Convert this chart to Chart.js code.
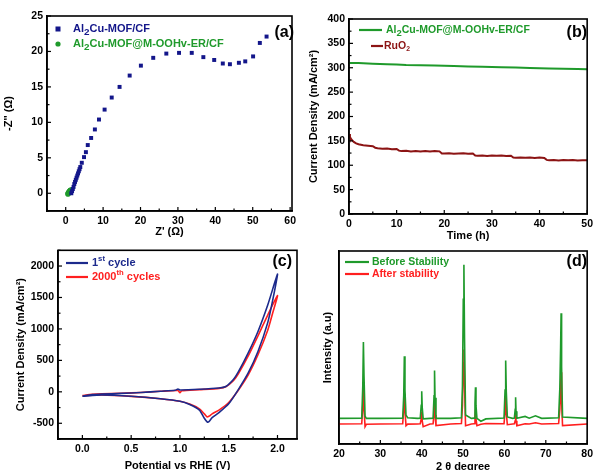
<!DOCTYPE html>
<html>
<head>
<meta charset="utf-8">
<script src="https://cdn.jsdelivr.net/npm/chart.js@4.4.1/dist/chart.umd.min.js"></script>
<style>
  html, body { margin: 0; padding: 0; background: #fff; overflow: hidden; }
  body { width: 597px; height: 470px; position: relative; }
  canvas { position: absolute; }
</style>
</head>
<body>
<canvas id="panelA" width="300" height="241" style="left:0;top:0"></canvas>
<canvas id="panelB" width="300" height="245" style="left:297px;top:0"></canvas>
<canvas id="panelC" width="300" height="235" style="left:0;top:240px"></canvas>
<canvas id="panelD" width="300" height="236" style="left:297px;top:240px"></canvas>
<script>
// (a) Nyquist plot
const eisBareRe = [1.5,1.7,1.9,2.1,2.3,2.5,2.7,2.9,3.1,3.3,3.5,3.7,3.9,4.3,4.9,5.4,5.9,6.8,7.8,8.9,10.4,12.3,14.4,17.1,20.1,23.4,26.9,30.3,33.7,36.8,39.7,42.0,43.9,46.3,48.0,50.1,51.9,53.7];
const eisBareIm = [0.0,0.3,0.6,0.9,1.3,1.6,1.9,2.2,2.5,2.8,3.1,3.4,3.7,4.3,5.1,5.8,6.8,7.8,9.0,10.4,11.8,13.5,15.0,16.6,18.0,19.1,19.7,19.8,19.8,19.2,18.8,18.3,18.2,18.4,18.6,19.3,21.2,22.1];
const eisErRe = [0.6,0.7,0.8,0.9,1.0,1.1,1.2,1.3,1.4];
const eisErIm = [-0.1,0.0,0.1,0.15,0.2,0.3,0.35,0.4,0.45];

// (b) chronoamperometry
const stabTimeG = [0,2,5,8,10,12,15,18,20,22,25,28,30,32,35,38,40,42,45,48,50];
const stabMof = [310,309.5,308,307,306.5,305.5,305,304.5,304,303.5,302.5,302,301.5,301,300.5,299.5,299,298.5,298,297.5,297];
const stabTimeR = [0,0.2,0.5,1,1.5,2,3,4,5,5.5,6,7,8,9,10,10.5,11,12,13,14,15,16,17,18,19,19.5,20,21,22,23,24,25,26,26.5,27,28,29,30,31,32,33,34,34.5,35,36,37,38,39,40,41,41.5,42,43,44,45,46,47,48,49,50];
const stabRuO2 = [164,158,153,148,145,143,141,140,139,136,135,134,134.5,133,133.5,130,129,129.5,128,129,128,129,128,129,128.5,124,124,124.5,123.5,124,124.5,123.5,124,120,119.5,120,119,120,119.5,120,119,119.5,116,115.5,116,115.5,116,115,116,115,111,110.5,111,110,111,110.5,111,110,110.5,110.5];

// (c) CV loops
const cv1V = [0.00,0.10,0.20,0.40,0.60,0.80,0.95,0.98,1.00,1.20,1.40,1.47,1.55,1.60,1.70,1.80,1.90,2.00,1.95,1.90,1.80,1.70,1.60,1.50,1.40,1.33,1.30,1.28,1.25,1.20,1.10,1.00,0.80,0.50,0.20,0.00];
const cv1J = [-70,-45,-35,-25,-10,10,25,45,30,40,60,85,200,320,620,960,1380,1870,1450,1100,640,300,40,-190,-330,-410,-470,-480,-420,-290,-200,-150,-110,-70,-50,-70];
const cv2000V = [0.00,0.10,0.20,0.40,0.60,0.80,0.98,1.00,1.02,1.20,1.40,1.47,1.55,1.60,1.70,1.80,1.90,2.00,1.95,1.90,1.80,1.70,1.60,1.50,1.40,1.33,1.30,1.28,1.25,1.20,1.10,1.00,0.80,0.50,0.20,0.00];
const cv2000J = [-60,-40,-30,-22,-10,8,20,-15,18,35,55,80,180,290,570,890,1220,1530,1250,980,590,270,30,-170,-290,-350,-385,-400,-350,-270,-195,-150,-110,-72,-50,-60];
const cvTicksJ = [-500,0,500,1000,1500,2000];

// (d) XRD
const xrdAngle = [20,25.5,25.75,25.9,26.05,26.3,26.6,30,
  35.4,35.65,35.8,35.95,36.2,36.6,39.0,
  39.65,39.88,40.0,40.12,40.35,42.0,
  42.75,42.98,43.1,43.22,43.45,47.0,
  49.6,49.85,50.05,50.2,50.35,50.6,52.0,
  52.65,52.88,53.0,53.12,53.35,54.3,55.5,
  59.9,60.15,60.3,60.45,60.7,62.0,
  62.4,62.6,62.7,62.8,63.0,65.0,66.0,67.5,69.0,
  73.1,73.4,73.58,73.7,73.82,74.05,80];
const xrdBefore = [13.3,13.4,30,52.8,35,14.5,13.3,13.3,
  13.4,25,45.5,28,15,13.6,13.3,
  13.4,20,27.3,19,13,13.3,
  13.4,25,38.1,24,13.3,13.3,
  13.6,30,75,92.9,55,15,13.3,
  13.4,21,29.4,20,13.3,11.8,13,
  13.5,28,43.3,27,14,13.3,
  13.4,18,24.2,17,13.3,14.3,13.4,14.6,13.3,
  13.6,29.4,50,67.8,40,14,13.3];
const xrdAfter = [10.4,10.5,20,29.9,18,9,10.2,10.4,
  10.5,18,26,17,9.5,10.3,10.4,
  10.5,13,16.8,12,9,10.4,
  10.5,16,22.1,15,9.5,10.4,
  10.6,20,42,49,30,9.5,10.4,
  10.5,14,17.8,13,9.5,10.2,10.6,
  10.5,17,24.7,16,10,10.4,
  10.5,12,16.1,12,9.5,10.5,10.4,11,10.4,
  10.6,18,30,37.2,22,9.5,10.4];

const FONT = "'Liberation Sans', Arial, sans-serif";
Chart.defaults.font.family = FONT;
Chart.defaults.color = '#000';
Chart.defaults.animation = false;

const pts = (xs, ys) => xs.map((x, i) => ({ x, y: ys[i] }));

// inward ticks, box frame, in-plot legend and panel tag
const framePlugin = {
  id: 'frame',
  afterDraw(chart, args, opts) {
    const { ctx, chartArea: a } = chart;
    ctx.save();
    ctx.strokeStyle = '#000';
    ctx.lineWidth = 1.2;
    for (const id of opts.tickAxes || []) {
      const s = chart.scales[id];
      const vals = s.ticks.map(t => t.value);
      const step = vals[1] - vals[0];
      const marks = [[vals[0] - step / 2, 2.5]];
      vals.forEach(v => { marks.push([v, 4]); marks.push([v + step / 2, 2.5]); });
      for (const [v, len] of marks) {
        if (v < s.min || v > s.max) continue;
        const p = s.getPixelForValue(v);
        ctx.beginPath();
        if (s.isHorizontal()) { ctx.moveTo(p, a.bottom); ctx.lineTo(p, a.bottom - len); }
        else { ctx.moveTo(a.left, p); ctx.lineTo(a.left + len, p); }
        ctx.stroke();
      }
    }
    ctx.lineWidth = 1.6;
    ctx.strokeRect(a.left, a.top, a.right - a.left, a.bottom - a.top);

    ctx.textBaseline = 'middle';
    for (const it of opts.items || []) {
      ctx.fillStyle = it.color;
      ctx.strokeStyle = it.color;
      if (it.marker === 'rect') ctx.fillRect(it.mx - 2.5, it.y - 2.5, 5, 5);
      if (it.marker === 'circle') { ctx.beginPath(); ctx.arc(it.mx, it.y, 2.6, 0, Math.PI * 2); ctx.fill(); }
      if (it.marker === 'line') {
        ctx.lineWidth = 2.2;
        ctx.beginPath(); ctx.moveTo(it.mx, it.y); ctx.lineTo(it.mx2, it.y); ctx.stroke();
      }
      let cx = it.tx;
      const size = it.size || 11;
      for (const [txt, kind] of it.parts) {
        const fs = kind === 'sub' ? size * (it.subScale || 0.9) : kind === 'sup' ? size * 0.7 : size;
        const dy = kind === 'sub' ? 3 : kind === 'sup' ? -4 : 0;
        ctx.font = `bold ${fs}px ${FONT}`;
        ctx.fillText(txt, cx, it.y + dy);
        cx += ctx.measureText(txt).width;
      }
    }
    if (opts.tag) {
      ctx.fillStyle = '#000';
      ctx.font = `bold 16px ${FONT}`;
      ctx.textAlign = 'right';
      ctx.fillText(opts.tag.text, opts.tag.x, opts.tag.y);
    }
    ctx.restore();
  }
};

function axis(o) {
  const ticks = { stepSize: o.step, includeBounds: false, display: o.labels !== false,
    font: { size: 10.5, weight: 'bold' }, color: '#000', padding: 4, maxRotation: 0, autoSkip: false,
    callback: o.fmt || (v => String(v)) };
  const cfg = {
    type: 'linear', position: o.pos, min: o.min, max: o.max,
    afterFit: o.fit,
    border: { display: true, color: '#000', width: 1.6 },
    grid: { display: false, drawTicks: false },
    ticks,
    title: { display: true, text: o.title, color: '#000', font: { size: 11, weight: 'bold' }, padding: { top: 2, bottom: 2 } }
  };
  if (o.ticksAt) cfg.afterBuildTicks = s => { s.ticks = o.ticksAt.map(v => ({ value: v })); };
  return cfg;
}

function panel(id, datasets, scales, padding, frame) {
  return new Chart(document.getElementById(id), {
    type: 'scatter',
    data: { datasets },
    options: {
      responsive: false,
      animation: false,
      layout: { padding },
      plugins: { legend: { display: false }, tooltip: { enabled: false }, frame },
      scales
    },
    plugins: [framePlugin]
  });
}

const NAVY = '#13168a', GREEN = '#1f9a2b', DARKRED = '#8c1414', BLUE = '#1c2a8c', RED = '#ff1f1f';

panel('panelA', [
  { data: pts(eisBareRe, eisBareIm), pointStyle: 'rect', pointRadius: 2.8, backgroundColor: NAVY, borderWidth: 0 },
  { data: pts(eisErRe, eisErIm), pointStyle: 'circle', pointRadius: 2.8, backgroundColor: GREEN, borderWidth: 0 }
], {
  x: axis({ pos: 'bottom', min: -5, max: 60.5, step: 10, title: "Z' (Ω)", fit: s => { s.height = 30; } }),
  y: axis({ pos: 'left', min: -2.5, max: 25, step: 5, title: "-Z'' (Ω)", fit: s => { s.width = 47; } })
}, { top: 16, right: 3, left: 0, bottom: 0 }, {
  tickAxes: ['x', 'y'],
  items: [
    { marker: 'rect', mx: 58, tx: 73, y: 29, color: NAVY, parts: [['Al', ''], ['2', 'sub'], ['Cu-MOF/CF', '']] },
    { marker: 'circle', mx: 58, tx: 73, y: 44, color: GREEN, parts: [['Al', ''], ['2', 'sub'], ['Cu-MOF@M-OOHv-ER/CF', '']] }
  ],
  tag: { text: '(a)', x: 294, y: 33 }
});

panel('panelB', [
  { data: pts(stabTimeG, stabMof), showLine: true, pointRadius: 0, borderColor: GREEN, borderWidth: 2, tension: 0 },
  { data: pts(stabTimeR, stabRuO2), showLine: true, pointRadius: 0, borderColor: DARKRED, borderWidth: 2, tension: 0 }
], {
  x: axis({ pos: 'bottom', min: 0, max: 50, step: 10, title: 'Time (h)', fit: s => { s.height = 31; } }),
  y: axis({ pos: 'left', min: 0, max: 400, step: 50, title: 'Current Density (mA/cm²)', fit: s => { s.width = 44; } })
}, { top: 19, right: 7, left: 8, bottom: 0 }, {
  tickAxes: ['x', 'y'],
  items: [
    { marker: 'line', mx: 62, mx2: 85, tx: 89, y: 30, size: 10.5, color: GREEN, parts: [['Al', ''], ['2', 'sub'], ['Cu-MOF@M-OOHv-ER/CF', '']] },
    { marker: 'line', mx: 74, mx2: 86, tx: 87, y: 46, size: 10.5, subScale: 0.65, color: DARKRED, parts: [['RuO', ''], ['2', 'sub']] }
  ],
  tag: { text: '(b)', x: 290, y: 33 }
});

panel('panelC', [
  { data: pts(cv1V, cv1J), showLine: true, pointRadius: 0, borderColor: BLUE, borderWidth: 1.6, tension: 0.2 },
  { data: pts(cv2000V, cv2000J), showLine: true, pointRadius: 0, borderColor: RED, borderWidth: 1.6, tension: 0.2 }
], {
  x: axis({ pos: 'bottom', min: -0.25, max: 2.2, step: 0.5, title: 'Potential vs RHE (V)', fmt: v => v.toFixed(1), fit: s => { s.height = 36; } }),
  y: axis({ pos: 'left', min: -750, max: 2250, ticksAt: cvTicksJ, title: 'Current Density (mA/cm²)', fit: s => { s.width = 46; } })
}, { top: 10, right: 3, left: 12, bottom: 0 }, {
  tickAxes: ['x', 'y'],
  items: [
    { marker: 'line', mx: 66, mx2: 88, tx: 92, y: 23, color: BLUE, parts: [['1', ''], ['st', 'sup'], [' cycle', '']] },
    { marker: 'line', mx: 66, mx2: 88, tx: 92, y: 37, color: RED, parts: [['2000', ''], ['th', 'sup'], [' cycles', '']] }
  ],
  tag: { text: '(c)', x: 292, y: 22 }
});

panel('panelD', [
  { data: pts(xrdAngle, xrdBefore), showLine: true, pointRadius: 0, borderColor: GREEN, borderWidth: 1.6, tension: 0 },
  { data: pts(xrdAngle, xrdAfter), showLine: true, pointRadius: 0, borderColor: RED, borderWidth: 1.6, tension: 0 }
], {
  x: axis({ pos: 'bottom', min: 20, max: 80, step: 10, title: '2 θ degree', fit: s => { s.height = 32; } }),
  y: axis({ pos: 'left', min: 0, max: 100, step: 20, labels: false, title: 'Intensity (a.u)', fit: s => { s.width = 20; } })
}, { top: 11, right: 7, left: 22, bottom: 0 }, {
  tickAxes: ['x'],
  items: [
    { marker: 'line', mx: 48, mx2: 72, tx: 75, y: 22, size: 10.5, color: GREEN, parts: [['Before Stability', '']] },
    { marker: 'line', mx: 48, mx2: 72, tx: 75, y: 34, size: 10.5, color: RED, parts: [['After stability', '']] }
  ],
  tag: { text: '(d)', x: 290, y: 22 }
});
</script>
</body>
</html>
